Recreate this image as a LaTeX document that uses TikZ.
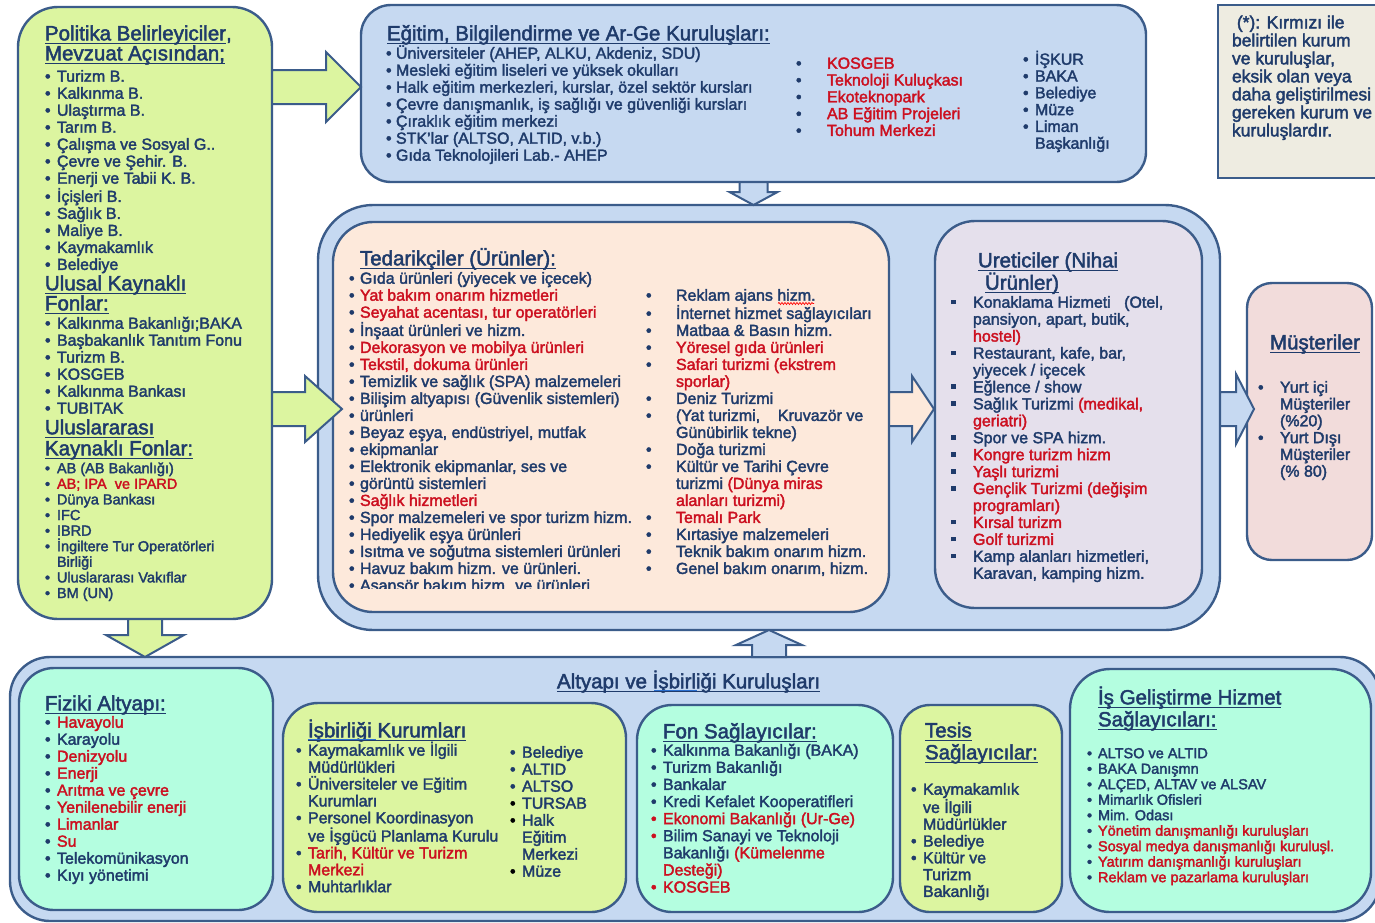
\documentclass[tikz,border=0pt]{standalone}
\usepackage{fontspec}
\setmainfont{Liberation Sans}[FakeBold=2.2]
\usetikzlibrary{calc,decorations.pathmorphing}
\definecolor{tblue}{HTML}{1F3B6B}
\definecolor{tred}{HTML}{CC1020}
\definecolor{bord}{HTML}{3B5C8A}
\definecolor{gfill}{HTML}{DCF5A0}
\definecolor{bfill}{HTML}{C6D9F1}
\definecolor{pfill}{HTML}{FDE9DB}
\definecolor{lfill}{HTML}{E5E0EC}
\definecolor{kfill}{HTML}{F2DCDB}
\definecolor{mfill}{HTML}{B4FEE0}
\definecolor{nfill}{HTML}{EEECE1}
\definecolor{lnk}{HTML}{2A6FD0}
\newsavebox\ulbox
\newcommand\ul[1]{\sbox\ulbox{#1}\usebox\ulbox\llap{\rule[-3.5pt]{\wd\ulbox}{1.2pt}}}
\newcommand\fz[2]{\fontsize{#1}{#2}\selectfont}
\newcommand\bl[1][12pt]{\makebox[#1][l]{\textbullet}}
\newcommand\rbl[1][12pt]{\makebox[#1][l]{\textcolor{tred}{\textbullet}}}
\newcommand\kbl[1][12pt]{\makebox[#1][l]{\textcolor{black}{\textbullet}}}
\newcommand\ind[1][12pt]{\hspace*{#1}}
\newcommand\rd[1]{\textcolor{tred}{#1}}
\newcommand\sqb[1][22pt]{\makebox[#1][l]{\raisebox{3.5pt}{\rule{4.5pt}{4.5pt}}}}
\newcommand\st[1]{\rule{0pt}{#1}}
\newcommand\bx[7]{\node[rbox,fill=#2,rounded corners=#7pt,minimum width={(#5)-(#3)},minimum height={(#6)-(#4)}] (#1) at (#3,#4) {};}
\newcommand\harr[6]{\path[#1] let \p1=#2, \p2=#3 in ({\x1},{\y2+#4}) -- ({\x2-#6},{\y2+#4}) -- ({\x2-#6},{\y2+#5}) -- (\p2) -- ({\x2-#6},{\y2-#5}) -- ({\x2-#6},{\y2-#4}) -- ({\x1},{\y2-#4}) -- cycle;}
\newcommand\varr[6]{\path[#1] let \p1=#2, \p2=#3 in ({\x2+#4},{\y1}) -- ({\x2+#4},{\y2+#6}) -- ({\x2+#5},{\y2+#6}) -- (\p2) -- ({\x2-#5},{\y2+#6}) -- ({\x2-#4},{\y2+#6}) -- ({\x2-#4},{\y1}) -- cycle;}
\begin{document}
\begin{tikzpicture}[x=1pt,y=-1pt,
  txt/.style={anchor=north west,inner sep=0pt,outer sep=0pt,align=left,text=tblue},
  rbox/.style={draw=bord,line width=2.4pt,anchor=north west,inner sep=0pt,outer sep=0pt},
  garr/.style={draw=bord,line width=2pt,fill=gfill},
  barr/.style={draw=bord,line width=2pt,fill=bfill},
  parr/.style={draw=bord,line width=2pt,fill=pfill},
  lnkline/.style={draw=lnk,line width=1pt}]
\useasboundingbox (0,0) rectangle (1375,922);
\clip (0,0) rectangle (1375,922);
\fill[white] (0,0) rectangle (1375,922);
% boxes
\bx{bot}{bfill}{10}{657}{1380}{921}{40}
\bx{mid}{bfill}{318}{205}{1220}{630}{55}
\bx{pol}{gfill}{18}{7}{272}{619}{40}
\bx{egit}{bfill}{361}{5}{1146}{182}{30}
\bx{note}{nfill}{1218}{5}{1390}{178}{0}
\bx{ted}{pfill}{333}{222}{889}{612}{40}
\bx{ure}{lfill}{935}{221}{1202}{608}{40}
\bx{mus}{kfill}{1247}{283}{1372}{560}{25}
\bx{fiz}{mfill}{19}{668}{273}{910}{35}
\bx{isb}{gfill}{283}{703}{626}{912}{35}
\bx{fon}{mfill}{637}{705}{893}{912}{35}
\bx{tes}{gfill}{900}{705}{1062}{912}{30}
\bx{isg}{mfill}{1070}{669}{1371}{912}{40}
% arrows
\coordinate (ya) at (0,87);
\coordinate (yb) at (0,409);
\harr{garr}{(pol.east |- ya)}{(egit.west |- ya)}{17}{35}{35}
\harr{garr}{(pol.east |- yb)}{($(mid.west |- yb)+(24,0)$)}{17}{33}{37}
\harr{parr}{(ted.east |- yb)}{($(ure.west |- yb)+(-1,0)$)}{17}{33}{22}
\harr{barr}{(mid.east |- yb)}{($(mus.west |- yb)+(7,0)$)}{17}{35}{18}
\varr{garr}{(pol.south)}{(pol.south |- bot.north)}{17}{39}{22}
\varr{barr}{(egit.south)}{(egit.south |- mid.north)}{14}{24}{13}
\varr{barr}{(mid.south |- bot.north)}{(mid.south)}{17}{33}{-15}
% left box texts
\node[txt,font=\fz{20.5}{20}] (polT1) at (45,21.3) {\st{19pt}\ul{Politika Belirleyiciler},\\\ul{Mevzuat Açısından;}};
\node[txt,font=\fz{16}{17}] (polL1) at (45,66.7) {\st{15pt}\bl Turizm B.\\\bl Kalkınma B.\\\bl Ulaştırma B.\\\bl Tarım B.\\\bl Çalışma ve Sosyal G..\\\bl Çevre ve Şehir. B.\\\bl Enerji ve Tabii K. B.\\\bl İçişleri B.\\\bl Sağlık B.\\\bl Maliye B.\\\bl Kaymakamlık\\\bl Belediye};
\node[txt,font=\fz{20.5}{20}] (polT2) at (45,271.3) {\st{19pt}\ul{Ulusal Kaynaklı}\\\ul{Fonlar:}};
\node[txt,font=\fz{16}{17}] (polL2) at (45,313.7) {\st{15pt}\bl Kalkınma Bakanlığı;BAKA\\\bl Başbakanlık Tanıtım Fonu\\\bl Turizm B.\\\bl KOSGEB\\\bl Kalkınma Bankası\\\bl TUBITAK};
\node[txt,font=\fz{20.5}{21}] (polT3) at (45,415.3) {\st{19pt}\ul{Uluslararası}\\\ul{Kaynaklı Fonlar:}};
\node[txt,font=\fz{14.5}{15.6}] (polL3) at (45,459.7) {\st{13.5pt}\bl AB (AB Bakanlığı)\\\bl\rd{AB; IPA\ \ ve IPARD}\\\bl Dünya Bankası\\\bl IFC\\\bl IBRD\\\bl İngiltere Tur Operatörleri\\\ind Birliği\\\bl Uluslararası Vakıflar\\\bl BM (UN)};
% top box
\node[txt,font=\fz{20.5}{20}] (egT) at (387,21.3) {\st{19pt}\ul{Eğitim, Bilgilendirme ve Ar-Ge Kuruluşları:}};
\node[txt,font=\fz{16}{17}] (egL) at (386,43.7) {\st{15pt}\bl[10pt]Üniversiteler (AHEP, ALKU, Akdeniz, SDU)\\\bl[10pt]Mesleki eğitim liseleri ve yüksek okulları\\\bl[10pt]Halk eğitim merkezleri, kurslar, özel sektör kursları\\\bl[10pt]Çevre danışmanlık, iş sağlığı ve güvenliği kursları\\\bl[10pt]Çıraklık eğitim merkezi\\\bl[10pt]STK'lar (ALTSO, ALTID, v.b.)\\\bl[10pt]Gıda Teknolojileri Lab.- AHEP};
\node[txt,font=\fz{16}{16.8}] (egR1) at (796,53.7) {\st{15pt}\bl[31pt]\rd{KOSGEB}\\\bl[31pt]\rd{Teknoloji Kuluçkası}\\\bl[31pt]\rd{Ekoteknopark}\\\bl[31pt]\rd{AB Eğitim Projeleri}\\\bl[31pt]\rd{Tohum Merkezi}};
\node[txt,font=\fz{16}{16.8}] (egR2) at (1023,49.7) {\st{15pt}\bl İŞKUR\\\bl BAKA\\\bl Belediye\\\bl Müze\\\bl Liman\\\ind Başkanlığı};
% note
\node[txt,font=\fz{17.5}{18}] (noteT) at (1232,12.3) {\st{16pt}\ (*): Kırmızı ile\\belirtilen kurum\\ve kuruluşlar,\\eksik olan veya\\daha geliştirilmesi\\gereken kurum ve\\kuruluşlardır.};
% tedarikciler
\node[txt,font=\fz{20.5}{20}] (tedT) at (360,246.3) {\st{19pt}\ul{Tedarikçiler (Ürünler):}};
\begin{scope}
\clip (330,222) rectangle (890,588);
\node[txt,font=\fz{16}{17}] (tedL) at (349,268.7) {\st{15pt}\bl[11pt]Gıda ürünleri (yiyecek ve içecek)\\\bl[11pt]\rd{Yat bakım onarım hizmetleri}\\\bl[11pt]\rd{Seyahat acentası, tur operatörleri}\\\bl[11pt]İnşaat ürünleri ve hizm.\\\bl[11pt]\rd{Dekorasyon ve mobilya ürünleri}\\\bl[11pt]\rd{Tekstil, dokuma ürünleri}\\\bl[11pt]Temizlik ve sağlık (SPA) malzemeleri\\\bl[11pt]Bilişim altyapısı (Güvenlik sistemleri)\\\bl[11pt]ürünleri\\\bl[11pt]Beyaz eşya, endüstriyel, mutfak\\\bl[11pt]ekipmanlar\\\bl[11pt]Elektronik ekipmanlar, ses ve\\\bl[11pt]görüntü sistemleri\\\bl[11pt]\rd{Sağlık hizmetleri}\\\bl[11pt]Spor malzemeleri ve spor turizm hizm.\\\bl[11pt]Hediyelik eşya ürünleri\\\bl[11pt]Isıtma ve soğutma sistemleri ürünleri\\\bl[11pt]Havuz bakım hizm. ve ürünleri.\\\bl[11pt]Asansör bakım hizm. ve ürünleri};
\end{scope}
\node[txt,font=\fz{16}{17}] (tedR) at (646,285.7) {\st{15pt}\bl[30pt]Reklam ajans hizm.\\\bl[30pt]İnternet hizmet sağlayıcıları\\\bl[30pt]Matbaa \& Basın hizm.\\\bl[30pt]\rd{Yöresel gıda ürünleri}\\\bl[30pt]\rd{Safari turizmi (ekstrem}\\\ind[30pt]\rd{sporlar)}\\\bl[30pt]Deniz Turizmi\\\bl[30pt](Yat turizmi,\ \ \ \ Kruvazör ve\\\ind[30pt]Günübirlik tekne)\\\bl[30pt]Doğa turizmi\\\bl[30pt]Kültür ve Tarihi Çevre\\\ind[30pt]turizmi \rd{(Dünya miras}\\\ind[30pt]\rd{alanları turizmi)}\\\bl[30pt]\rd{Temalı Park}\\\bl[30pt]Kırtasiye malzemeleri\\\bl[30pt]Teknik bakım onarım hizm.\\\bl[30pt]Genel bakım onarım, hizm.};
\draw[red,line width=0.7pt,decorate,decoration={snake,amplitude=1pt,segment length=3pt}] (778,303.5) -- (814,303.5);
% ureticiler
\node[txt,font=\fz{20.5}{20}] (ureT) at (978,248.3) {\st{19pt}\ul{Ureticiler (Nihai}\\\hspace*{7pt}\ul{Ürünler)}};
\node[txt,font=\fz{16}{16.94}] (ureL) at (951,292.7) {\st{15pt}\sqb Konaklama Hizmeti\ \ \ (Otel,\\\ind[22pt]pansiyon, apart, butik,\\\ind[22pt]\rd{hostel)}\\\sqb Restaurant, kafe, bar,\\\ind[22pt]yiyecek / içecek\\\sqb Eğlence / show\\\sqb Sağlık Turizmi \rd{(medikal,}\\\ind[22pt]\rd{geriatri)}\\\sqb Spor ve SPA hizm.\\\sqb\rd{Kongre turizm hizm}\\\sqb\rd{Yaşlı turizmi}\\\sqb\rd{Gençlik Turizmi (değişim}\\\ind[22pt]\rd{programları)}\\\sqb\rd{Kırsal turizm}\\\sqb\rd{Golf turizmi}\\\sqb Kamp alanları hizmetleri,\\\ind[22pt]Karavan, kamping hizm.};
% musteriler
\node[txt,font=\fz{20.5}{20}] (musT) at (1270,330.3) {\st{19pt}\ul{Müşteriler}};
\node[txt,font=\fz{16}{16.8}] (musL) at (1258,377.7) {\st{15pt}\bl[22pt]Yurt içi\\\ind[22pt]Müşteriler\\\ind[22pt](\%20)\\\bl[22pt]Yurt Dışı\\\ind[22pt]Müşteriler\\\ind[22pt](\% 80)};
% bottom
\node[txt,font=\fz{20.5}{20}] (botT) at (557,669.3) {\st{19pt}\ul{Altyapı ve İşbirliği Kuruluşları}};
\draw[lnkline] (654,690) -- (697,690);
\node[txt,font=\fz{20.5}{20}] (fizT) at (45,691.3) {\st{19pt}\ul{Fiziki Altyapı:}};
\node[txt,font=\fz{16}{17}] (fizL) at (45,712.7) {\st{15pt}\bl\rd{Havayolu}\\\bl Karayolu\\\bl\rd{Denizyolu}\\\bl\rd{Enerji}\\\bl\rd{Arıtma ve çevre}\\\bl\rd{Yenilenebilir enerji}\\\bl\rd{Limanlar}\\\bl\rd{Su}\\\bl Telekomünikasyon\\\bl Kıyı yönetimi};
\node[txt,font=\fz{20.5}{20}] (isbT) at (308,718.3) {\st{19pt}\ul{İşbirliği Kurumları}};
\draw[lnkline] (308,739) -- (376,739);
\node[txt,font=\fz{16}{16.9}] (isbL) at (296,740.7) {\st{15pt}\bl Kaymakamlık ve İlgili\\\ind Müdürlükleri\\\bl Üniversiteler ve Eğitim\\\ind Kurumları\\\bl Personel Koordinasyon\\\ind ve İşgücü Planlama Kurulu\\\bl\rd{Tarih, Kültür ve Turizm}\\\ind\rd{Merkezi}\\\bl Muhtarlıklar};
\node[txt,font=\fz{16}{17}] (isbR) at (510,742.7) {\st{15pt}\bl Belediye\\\bl ALTID\\\bl ALTSO\\\kbl TURSAB\\\kbl Halk\\\ind Eğitim\\\ind Merkezi\\\kbl Müze};
\node[txt,font=\fz{20.5}{20}] (fonT) at (663,719.3) {\st{19pt}\ul{Fon Sağlayıcılar:}};
\node[txt,font=\fz{16}{17.1}] (fonL) at (651,740.7) {\st{15pt}\bl Kalkınma Bakanlığı (BAKA)\\\bl Turizm Bakanlığı\\\bl Bankalar\\\bl Kredi Kefalet Kooperatifleri\\\rbl\rd{Ekonomi Bakanlığı (Ur-Ge)}\\\rbl Bilim Sanayi ve Teknoloji\\\ind Bakanlığı \rd{(Kümelenme}\\\ind\rd{Desteği)}\\\rbl\rd{KOSGEB}};
\node[txt,font=\fz{20.5}{22}] (tesT) at (925,718.3) {\st{19pt}\ul{Tesis}\\\ul{Sağlayıcılar:}};
\node[txt,font=\fz{16}{16.8}] (tesL) at (911,779.7) {\st{15pt}\bl Kaymakamlık\\\ind ve İlgili\\\ind Müdürlükler\\\bl Belediye\\\bl Kültür ve\\\ind Turizm\\\ind Bakanlığı};
\node[txt,font=\fz{20.5}{22}] (isgT) at (1098,685.3) {\st{19pt}\ul{İş Geliştirme Hizmet}\\\ul{Sağlayıcıları:}};
\node[txt,font=\fz{14.5}{15.5}] (isgL) at (1087,744.7) {\st{13.5pt}\bl[11pt]ALTSO ve ALTID\\\bl[11pt]BAKA Danışmn\\\bl[11pt]ALÇED, ALTAV ve ALSAV\\\bl[11pt]Mimarlık Ofisleri\\\bl[11pt]Mim. Odası\\\bl[11pt]\rd{Yönetim danışmanlığı kuruluşları}\\\bl[11pt]\rd{Sosyal medya danışmanlığı kuruluşl.}\\\bl[11pt]\rd{Yatırım danışmanlığı kuruluşları}\\\bl[11pt]\rd{Reklam ve pazarlama kuruluşları}};
\end{tikzpicture}
\end{document}
